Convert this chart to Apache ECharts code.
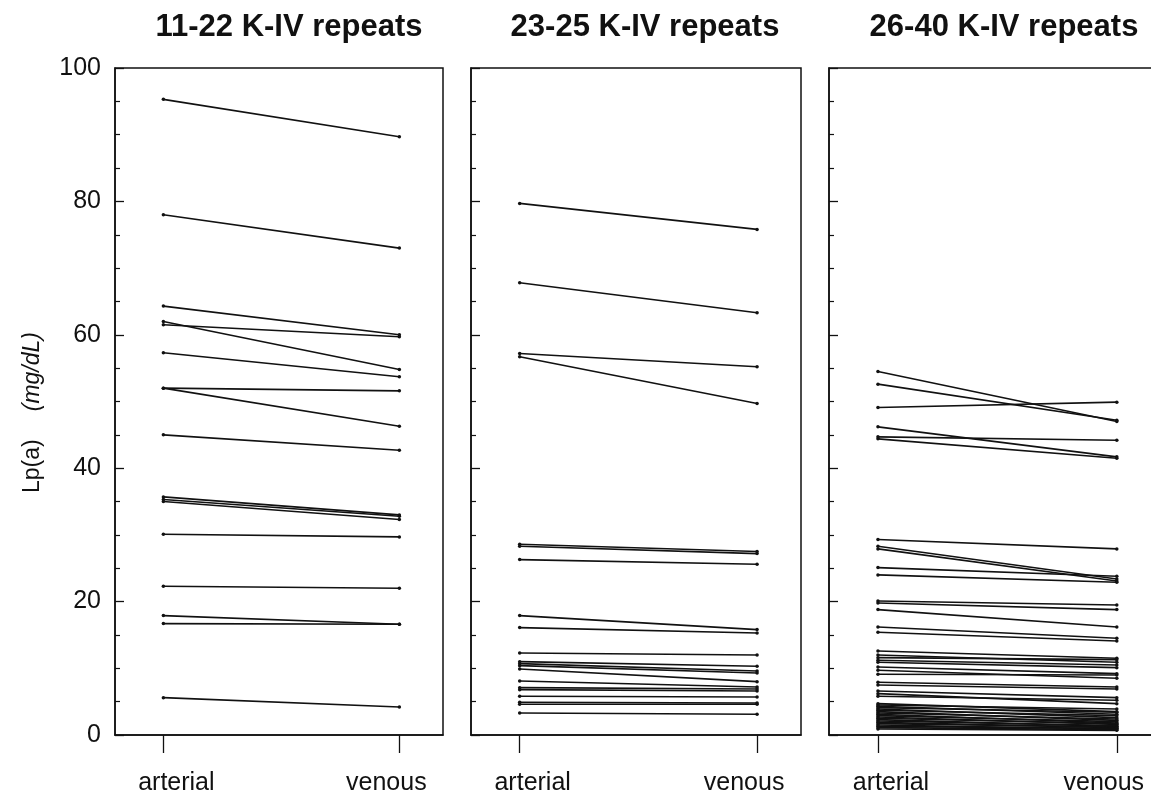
<!DOCTYPE html>
<html>
<head>
<meta charset="utf-8">
<script src="https://cdn.jsdelivr.net/npm/echarts@6/dist/echarts.min.js"></script>
<style>
  html, body { margin: 0; background: #fff; }
  #chart { width: 1151px; height: 797px; }
</style>
</head>
<body>
<div id="chart"></div>
<script>
// panel titles, x sites and y ticks
var panelTitles = ['11-22 K-IV repeats', '23-25 K-IV repeats', '26-40 K-IV repeats'];
var sites = ['arterial', 'venous'];
var yTicks = [0, 20, 40, 60, 80, 100];

// Lp(a) mg/dL, one pair (arterial -> venous) per subject
var arterial1 = [95.3, 78.0, 64.3, 62.0, 61.5, 57.3, 52.0, 52.0, 45.0, 35.7, 35.3, 35.0, 30.1, 22.3, 17.9, 16.7, 5.6];
var venous1   = [89.7, 73.0, 60.0, 54.8, 59.7, 53.7, 51.6, 46.3, 42.7, 33.0, 32.8, 32.3, 29.7, 22.0, 16.6, 16.6, 4.2];

var arterial2 = [79.7, 67.8, 57.2, 56.7, 28.6, 28.3, 26.3, 17.9, 16.1, 12.3, 11.0, 10.7, 10.4, 9.9, 8.1, 7.1, 6.8, 5.8, 4.9, 4.6, 3.3];
var venous2   = [75.8, 63.3, 55.2, 49.7, 27.5, 27.2, 25.6, 15.8, 15.3, 12.0, 10.3, 9.6, 9.3, 8.0, 7.2, 6.9, 6.6, 5.7, 4.8, 4.6, 3.1];

var arterial3 = [54.5, 52.6, 49.1, 46.2, 44.7, 44.4, 29.3, 28.3, 27.9, 25.1, 24.0, 20.1, 19.8, 18.8, 16.2, 15.4,
                 12.6, 12.0, 11.6, 11.2, 10.9, 10.2, 9.7, 9.1, 7.9, 7.5, 6.6, 6.2, 5.8, 4.7, 4.5, 4.3, 4.1, 3.9,
                 3.7, 3.5, 3.3, 3.1, 2.9, 2.7, 2.5, 2.3, 2.1, 1.9, 1.7, 1.5, 1.3, 1.1, 0.9];
var venous3   = [47.0, 47.2, 49.9, 41.7, 44.2, 41.5, 27.9, 23.4, 23.1, 23.8, 22.9, 19.5, 18.8, 16.2, 14.5, 14.1,
                 11.5, 10.9, 11.3, 10.5, 10.1, 9.2, 8.5, 9.0, 7.2, 6.9, 5.6, 4.7, 5.2, 3.5, 3.9, 3.1, 3.4, 2.6,
                 2.9, 2.2, 2.4, 1.8, 2.0, 1.6, 1.7, 1.3, 1.4, 1.1, 1.2, 0.9, 1.0, 0.8, 0.7];

var arterialSets = [arterial1, arterial2, arterial3];
var venousSets = [venous1, venous2, venous3];

var ink = '#111';
var font = "'Liberation Sans', Arial, Helvetica, sans-serif";
var gridLeft = [115, 471, 829];
var gridWidth = [328, 330, 332];
var titleX = [284, 640, 999];

var chart = echarts.init(document.getElementById('chart'), null, { renderer: 'canvas' });

var titles = [], grids = [], xAxes = [], yAxes = [], series = [];

for (var p = 0; p < 3; p++) {
  titles.push({
    text: panelTitles[p],
    left: titleX[p],
    top: 7,
    textAlign: 'center',
    textStyle: { fontFamily: font, fontSize: 31, fontWeight: 'bold', color: ink }
  });
  grids.push({
    left: gridLeft[p], top: 68, width: gridWidth[p], height: 667,
    outerBoundsMode: 'none',
    show: true, borderColor: ink, borderWidth: 1.5, backgroundColor: 'transparent'
  });
  xAxes.push({
    gridIndex: p,
    type: 'value',
    min: -0.205,
    max: 1.185,
    splitLine: { show: false },
    axisLine: { onZero: false, lineStyle: { color: ink, width: 1.5 } },
    axisTick: { customValues: [0, 1], length: 18, lineStyle: { color: ink, width: 1.3 } },
    axisLabel: {
      customValues: [0, 1],
      margin: 36,
      formatter: function (v) { return v === 0 ? '{a|' + sites[0] + '}' : '{v|' + sites[1] + '}'; },
      rich: {
        a: { fontFamily: font, fontSize: 25, color: ink, padding: [0, 0, 0, 26] },
        v: { fontFamily: font, fontSize: 25, color: ink, padding: [0, 26, 0, 0] }
      }
    }
  });
  yAxes.push({
    gridIndex: p,
    type: 'value',
    min: yTicks[0],
    max: yTicks[yTicks.length - 1],
    interval: yTicks[1] - yTicks[0],
    splitLine: { show: false },
    axisLine: { show: true, onZero: false, lineStyle: { color: ink, width: 1.5 } },
    axisTick: { inside: true, length: 9, lineStyle: { color: ink, width: 1.3 } },
    minorTick: { show: true, splitNumber: 4, length: 5, lineStyle: { color: ink, width: 1.2 } },
    axisLabel: { show: p === 0, fontFamily: font, fontSize: 25, color: ink, margin: 14 },
    name: p === 0 ? '{a|Lp(a)}{b|(mg/dL)}' : '',
    nameLocation: 'middle',
    nameRotate: 90,
    nameGap: 71,
    nameTextStyle: {
      padding: [0, 22, 0, 0],
      rich: {
        a: { fontFamily: font, fontSize: 23, color: ink, padding: [0, 28, 0, 0] },
        b: { fontFamily: font, fontSize: 23, color: ink, fontStyle: 'italic' }
      }
    }
  });
  for (var i = 0; i < arterialSets[p].length; i++) {
    series.push({
      type: 'line',
      xAxisIndex: p,
      yAxisIndex: p,
      silent: true,
      symbol: 'circle',
      symbolSize: 3.5,
      lineStyle: { color: ink, width: 1.6 },
      itemStyle: { color: ink },
      data: [[0, arterialSets[p][i]], [1, venousSets[p][i]]]
    });
  }
}

chart.setOption({
  animation: false,
  backgroundColor: '#fff',
  title: titles,
  grid: grids,
  xAxis: xAxes,
  yAxis: yAxes,
  series: series
});
</script>
</body>
</html>
